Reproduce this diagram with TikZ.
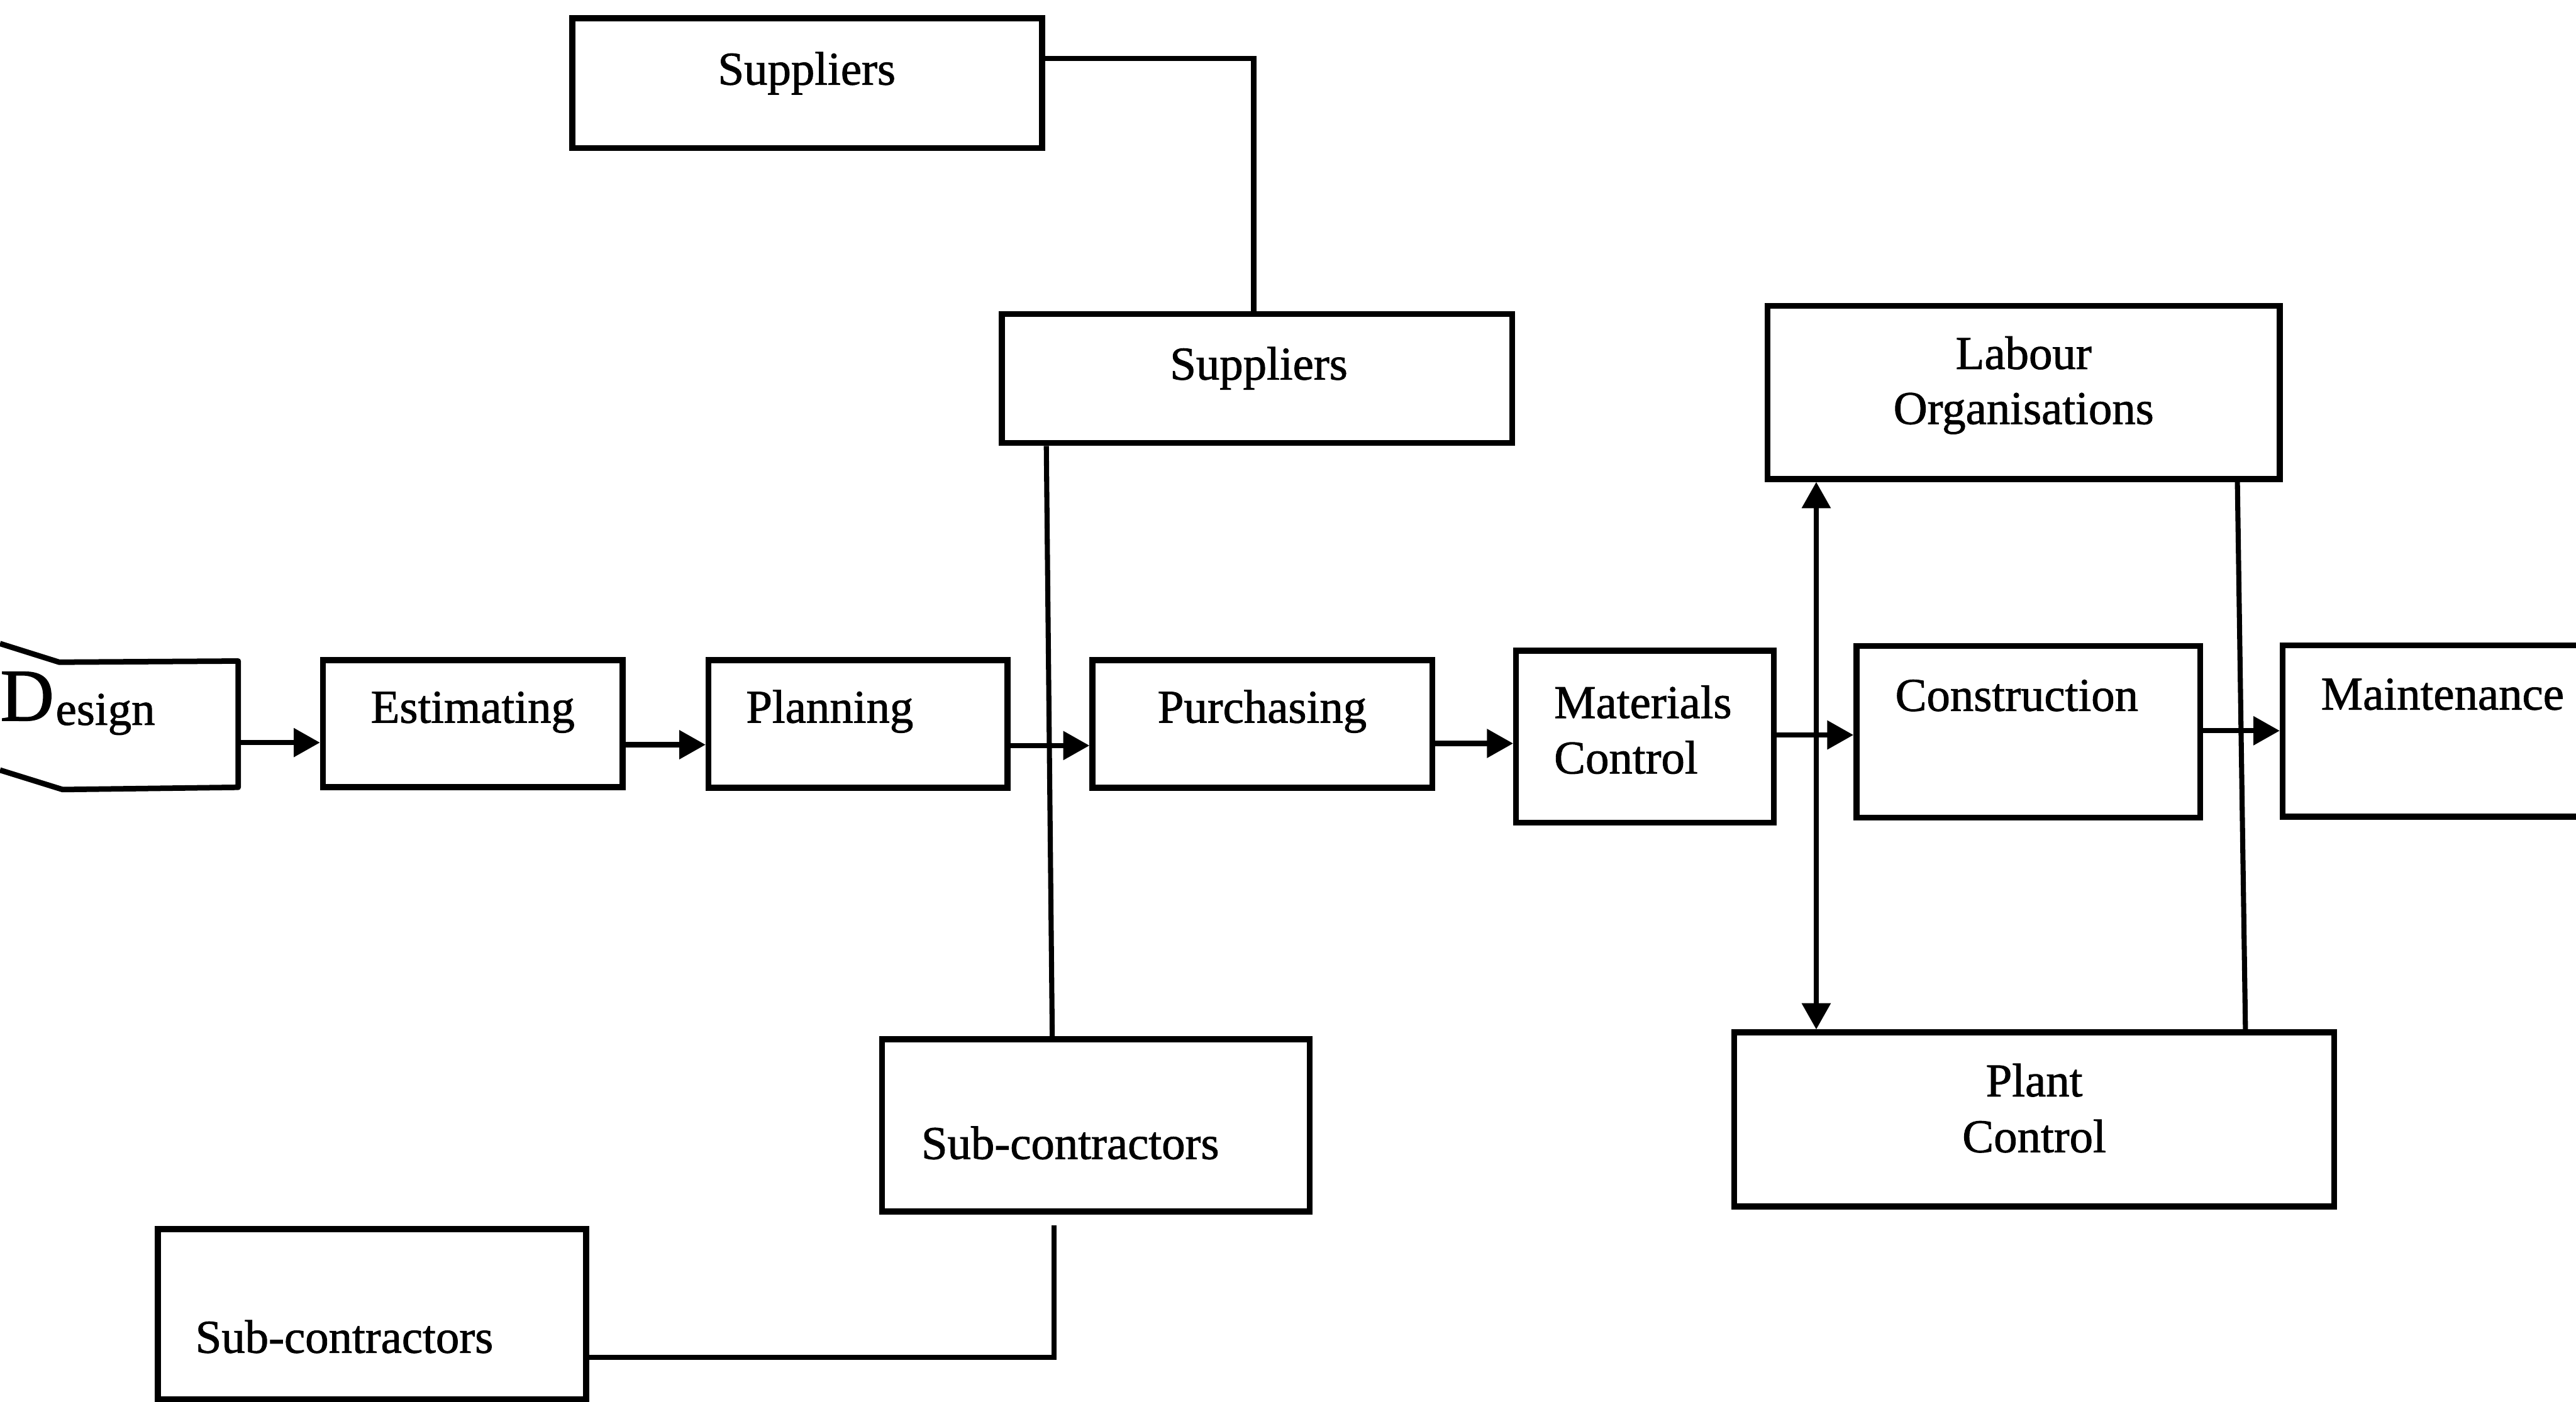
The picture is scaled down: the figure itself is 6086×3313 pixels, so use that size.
\documentclass[tikz,border=0pt]{standalone}
\usepackage{fontspec}
\setmainfont[FakeBold=1.2]{Liberation Serif}
\usetikzlibrary{arrows.meta,fit}
\begin{document}
\begin{tikzpicture}[x=0.01cm,y=-0.01cm,
  box/.style={draw, rectangle, line width=1.4mm, inner sep=0pt},
  ghost/.style={rectangle, inner sep=0pt},
  lbl/.style={inner sep=0pt, font=\fontsize{31.6pt}{37pt}\selectfont},
  link/.style={line width=1.2mm},
  flow/.style={link, -{Triangle[length=0.62cm,width=0.66cm]}},
  twoway/.style={link, {Triangle[length=0.62cm,width=0.66cm]}-{Triangle[length=0.62cm,width=0.66cm]}}]
\clip (0,0) rectangle (6086,3313);
\fill[white] (0,0) rectangle (6086,3313);

% boxes
\node[box, fit={(1352,43) (2462,350)}] (sup1) {};
\node[box, fit={(2367,742) (3573,1047)}] (sup2) {};
\node[box, fit={(4176,723) (5386,1132)}] (lab) {};
\node[ghost, fit={(0,1563) (562,1860)}] (design) {};
\node[box, fit={(763,1560) (1471,1860)}] (est) {};
\node[box, fit={(1674,1560) (2380,1862)}] (plan) {};
\node[box, fit={(2581,1560) (3384,1862)}] (pur) {};
\node[box, fit={(3582,1538) (4191,1944)}] (mat) {};
\node[box, fit={(4386,1527) (5198,1932)}] (con) {};
\node[box, fit={(5393,1525) (6160,1930)}] (mai) {};
\node[box, fit={(2084,2456) (3094,2863)}] (sub2) {};
\node[box, fit={(4097,2440) (5515,2851)}] (plant) {};
\node[box, fit={(373,2905) (1385,3307)}] (sub1) {};

% the design box, bent at its left end
\draw[line width=1.3mm, line join=round]
  (0,1521) -- (140,1565) -- (design.north east) -- (design.south east) -- (148,1866) -- (0,1820);

% labels
\node[lbl, anchor=base] (tsup1) at (1906,200) {Suppliers};
\node[lbl, anchor=base] (tsup2) at (2974,897) {Suppliers};
\node[lbl, anchor=base] (tlab1) at (4781,872) {Labour};
\node[lbl, anchor=base] (tlab2) at (4781,1002) {Organisations};
\node[lbl, anchor=base west] (tdes) at (0,1713) {\raisebox{0.1cm}{\fontsize{50pt}{52pt}\selectfont D}\hspace{0.04cm}esign};
\node[lbl, anchor=base] (test) at (1117,1708) {Estimating};
\node[lbl, anchor=base west] (tplan) at (1762,1708) {Planning};
\node[lbl, anchor=base] (tpur) at (2982,1708) {Purchasing};
\node[lbl, anchor=base west] (tmat1) at (3671,1697) {Materials};
\node[lbl, anchor=base west] (tmat2) at (3671,1828) {Control};
\node[lbl, anchor=base west] (tcon) at (4477,1680) {Construction};
\node[lbl, anchor=base west] (tmai) at (5483,1677) {Maintenance};
\node[lbl, anchor=base west] (tsub2) at (2176,2739) {Sub-contractors};
\node[lbl, anchor=base] (tpla1) at (4806,2591) {Plant};
\node[lbl, anchor=base] (tpla2) at (4806,2723) {Control};
\node[lbl, anchor=base west] (tsub1) at (461,3197) {Sub-contractors};

% connector positions
\coordinate (ya) at (0,1755);
\coordinate (yb) at (0,1760);
\coordinate (yc) at (0,1762);
\coordinate (yd) at (0,1757);
\coordinate (ye) at (0,1737);
\coordinate (yf) at (0,1727);
\coordinate (c1) at (2962,138);
\coordinate (va) at (2472,0);
\coordinate (vb) at (2486,0);
\coordinate (c3) at (2490,3208);
\coordinate (subgap) at (2490,2896);
\coordinate (dx) at (4291,0);
\coordinate (rxa) at (5286,0);
\coordinate (rxb) at (5305,0);

% main flow
\draw[flow] (design.east |- ya) -- (est.west |- ya);
\draw[flow] (est.east |- yb) -- (plan.west |- yb);
\draw[flow] (plan.east |- yc) -- (pur.west |- yc);
\draw[flow] (pur.east |- yd) -- (mat.west |- yd);
\draw[flow] (mat.east |- ye) -- (con.west |- ye);
\draw[flow] (con.east |- yf) -- (mai.west |- yf);

% suppliers and sub-contractors
\draw[link] (sup1.east |- c1) -- (c1) -- (c1 |- sup2.north);
\draw[link] (sup2.south -| va) -- (sub2.north -| vb);
\draw[link] (sub1.east |- c3) -- (c3) -- (subgap);

% labour and plant
\draw[twoway] (lab.south -| dx) -- (plant.north -| dx);
\draw[link] (lab.south -| rxa) -- (plant.north -| rxb);
\end{tikzpicture}
\end{document}
